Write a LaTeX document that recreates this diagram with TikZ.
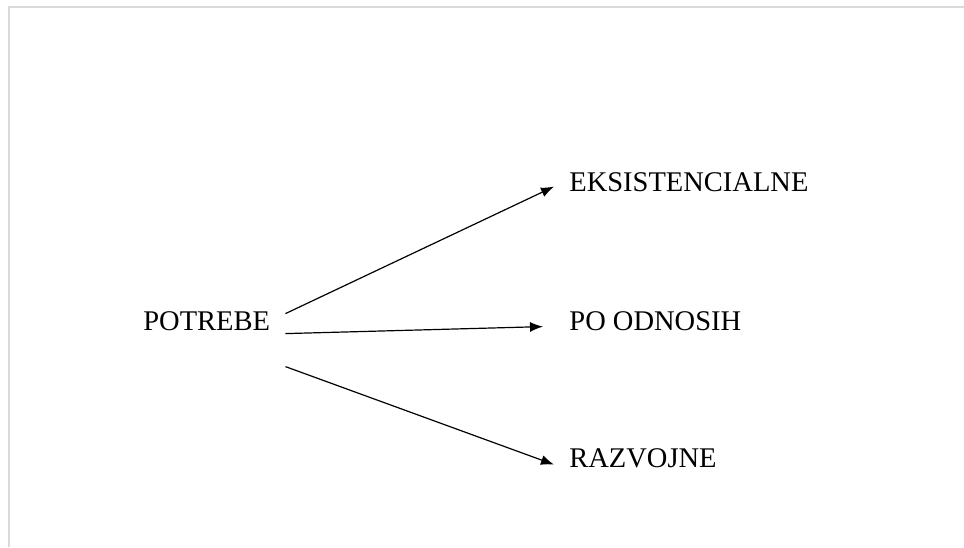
\documentclass[tikz,border=0pt]{standalone}
\usepackage{fontspec}
\setmainfont{Liberation Serif}
\usetikzlibrary{arrows.meta,positioning,calc}
\tikzset{
  basic/.style  = {inner sep=0pt, text height=9.4pt, text depth=0pt,
  font=\fontsize{14.25}{17}\selectfont},
  root/.style   = {basic, anchor=base west},
  vrsta/.style  = {basic, anchor=base west},
  okvir/.style  = {draw=gray!30, line width=1pt},
  pil/.style    = {-{Latex[length=6.5pt,width=5pt]}, line width=0.6pt}
}

\begin{document}
\begin{tikzpicture}[x=0.5pt, y=-0.5pt]
    \useasboundingbox (0,0) rectangle (964,547);

% page edge
    \draw[okvir] (9,547) -- (9,7) -- (964,7);

% root
    \node[root] (potrebe) at (143,330) {POTREBE};

% the three kinds of needs
    \node[vrsta] (eksist) at (569,191) {EKSISTENCIALNE};
    \node[vrsta] (odnosi) at (569,330) {PO ODNOSIH};
    \node[vrsta] (razvoj) at (569,467) {RAZVOJNE};

% arrows from the root to each kind
    \draw[pil] ([shift={(15,-7)}]potrebe.east) -- ([shift={(-15,5)}]eksist.west);
    \draw[pil] ([shift={(15,13)}]potrebe.east) -- ([shift={(-26,6)}]odnosi.west);
    \draw[pil] ([shift={(15,46)}]potrebe.east) -- ([shift={(-15,7)}]razvoj.west);
\end{tikzpicture}
\end{document}
